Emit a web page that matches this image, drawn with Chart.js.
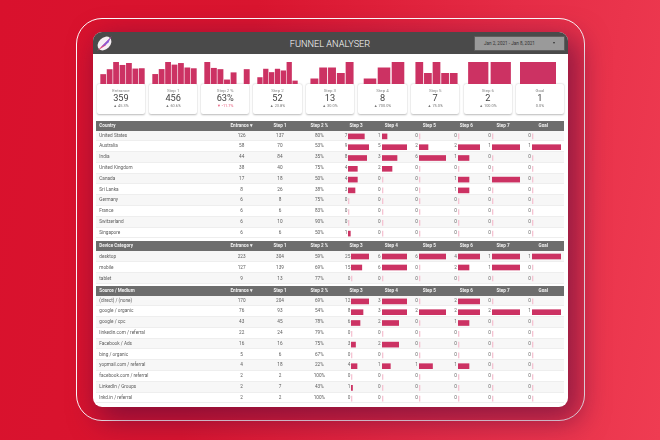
<!DOCTYPE html>
<html lang="en">
<head>
<meta charset="UTF-8">
<title>Funnel Analyser</title>
<script src="https://cdn.jsdelivr.net/npm/chart.js"></script>
<style>
    html, body { margin: 0; padding: 0; }
    html { background: linear-gradient(100deg, #d9112d 0%, #d9152f 35%, #e52c46 70%, #ef3c52 100%); height: 440px; }
    body {
        width: 660px; height: 440px; overflow: hidden; position: relative;
        font-family: Roboto, sans-serif;
        filter: blur(0.35px);
    }
    div, canvas, svg { position: absolute; box-sizing: border-box; }
    #frame { left: 76px; top: 18px; width: 509px; height: 403px; border: 1.5px solid #fff; border-radius: 26px; }
    #panel {
        left: 93px; top: 32px; width: 475px; height: 375px; background: #fff; border-radius: 9px;
        box-shadow: 8px 10px 28px 4px rgba(90, 10, 60, 0.6);
    }
    #topbar { left: 93px; top: 32px; width: 475px; height: 22px; background: #4a4a4a; border-radius: 9px 9px 0 0; }
    #title { left: 250px; top: 37px; width: 160px; text-align: center; color: #fff; font-size: 9.2px; font-weight: 300; line-height: 13px; }
    #datebox { left: 474px; top: 36px; width: 91px; height: 15px; background: #9a9a9a; border: 1px solid #5e5e5e; border-radius: 1px; color: #333; font-size: 4.6px; line-height: 13px; padding-left: 9px; }
    #caret { left: 553px; top: 41.5px; width: 0; height: 0; border-left: 1.5px solid transparent; border-right: 1.5px solid transparent; border-top: 2px solid #333; }
    .card { background: #fff; top: 84px; width: 48.4px; height: 30px; border-radius: 2px; box-shadow: 0 0.5px 2px rgba(0,0,0,0.28); text-align: center; }
    .card div { left: 0; width: 100%; }
    .clabel { top: 3.5px; font-size: 4.4px; line-height: 5px; color: #8a8a8a; }
    .cvalue { top: 7.5px; font-size: 9.2px; line-height: 11px; color: #444; }
    .cdelta { top: 19px; font-size: 3.9px; line-height: 5px; color: #777; }
    .cdelta.neg { color: #e8607f; }
    .thead { left: 96px; width: 468px; background: #6d6d6d; color: #f2f2f2; font-size: 4.6px; font-weight: 700; }
    .row { left: 96px; width: 468px; color: #5c5c5c; font-size: 4.7px; border-bottom: 0.5px solid #eee; }
    .row.odd { background: #f7f7f7; }
    .lab { left: 3.3px; white-space: nowrap; }
    .mid { width: 40px; text-align: center; white-space: nowrap; }
    .cnt { width: 14px; text-align: right; white-space: nowrap; color: #6a6a6a; }
</style>
</head>
<body>
<div id="frame"></div>
<div id="panel"></div>
<div id="topbar"></div>
<svg style="left:95px;top:34px" width="19" height="19" viewBox="0 0 19 19">
    <ellipse cx="9.5" cy="9.5" rx="7.8" ry="5.8" transform="rotate(-45 9.5 9.5)" fill="#f6f0f4"/>
    <path d="M2 17 L17 2 L10.5 11.5 Z" fill="#e0457a"/>
    <path d="M6 13 L16 3 L13.5 8.5 Q10 12 6 13 Z" fill="#8a5bd6"/>
</svg>
<div id="title">FUNNEL ANALYSER</div>
<div id="datebox">Jan 2, 2021 - Jan 8, 2021</div>
<div id="caret"></div>

<script>
// top scorecards, one bar per day in the date range
const cardLabels = ['Entrance', 'Step 1', 'Step 2 %', 'Step 2', 'Step 3', 'Step 4', 'Step 5', 'Step 6', 'Goal'];
const cardValues = ['359', '456', '63%', '52', '13', '8', '7', '2', '1'];
const cardDeltas = ['\u25B2 45.3%', '\u25B2 60.6%', '\u25BC -11.7%', '\u25B2 23.8%', '\u25B2 30.0%', '\u25B2 700.0%', '\u25B2 75.0%', '\u25B2 100.0%', '0.0%'];

const sparkEntrance = [30, 45, 67, 58, 64, 47, 48];
const sparkStep1 = [38, 57, 84, 74, 80, 63, 60];
const sparkStep2Pct = [89, 65, 60, 18, 47, 0, 60];
const sparkStep2 = [4, 9, 7, 9, 8, 13, 2];
const sparkStep3 = [1, 3, 3, 2, 4];
const sparkStep4 = [1, 3, 4];
const sparkStep5 = [2, 1, 2, 1, 1];
const sparkStep6 = [1, 1];
const sparkGoal = [1];
const sparks = [sparkEntrance, sparkStep1, sparkStep2Pct, sparkStep2, sparkStep3, sparkStep4, sparkStep5, sparkStep6, sparkGoal];

// table columns
const countryNames = ['United States', 'Australia', 'India', 'United Kingdom', 'Canada', 'Sri Lanka', 'Germany', 'France', 'Switzerland', 'Singapore'];
const countryEntrance = [126, 58, 44, 38, 17, 8, 6, 6, 6, 6];
const countryStep1 = [137, 70, 84, 40, 18, 26, 8, 6, 10, 6];
const countryPct = ['80%', '53%', '35%', '75%', '50%', '38%', '75%', '83%', '90%', '50%'];
const countryStep3 = [7, 9, 8, 4, 4, 3, 0, 0, 0, 1];
const countryStep4 = [1, 5, 3, 2, 0, 0, 0, 0, 0, 0];
const countryStep5 = [0, 2, 6, 0, 0, 0, 0, 0, 0, 0];
const countryStep6 = [0, 2, 1, 0, 1, 1, 0, 0, 0, 0];
const countryStep7 = [0, 1, 0, 0, 1, 0, 0, 0, 0, 0];
const countryGoal = [0, 1, 0, 0, 0, 0, 0, 0, 0, 0];

const deviceNames = ['desktop', 'mobile', 'tablet'];
const deviceEntrance = [223, 127, 9];
const deviceStep1 = [304, 139, 13];
const devicePct = ['59%', '69%', '77%'];
const deviceStep3 = [25, 15, 0];
const deviceStep4 = [6, 6, 0];
const deviceStep5 = [6, 0, 0];
const deviceStep6 = [4, 2, 0];
const deviceStep7 = [1, 1, 0];
const deviceGoal = [1, 0, 0];

const sourceNames = ['(direct) / (none)', 'google / organic', 'google / cpc', 'linkedin.com / referral', 'Facebook / Ads', 'bing / organic', 'yopmail.com / referral', 'facebook.com / referral', 'LinkedIn / Groups', 'lnkd.in / referral'];
const sourceEntrance = [170, 76, 43, 22, 16, 5, 4, 2, 2, 2];
const sourceStep1 = [204, 93, 45, 24, 16, 6, 18, 2, 7, 2];
const sourcePct = ['69%', '54%', '78%', '79%', '75%', '67%', '22%', '100%', '43%', '100%'];
const sourceStep3 = [12, 8, 6, 0, 3, 0, 4, 0, 1, 0];
const sourceStep4 = [3, 3, 2, 0, 2, 0, 1, 0, 0, 0];
const sourceStep5 = [0, 2, 0, 0, 0, 0, 1, 0, 0, 0];
const sourceStep6 = [2, 2, 1, 0, 0, 0, 1, 0, 0, 0];
const sourceStep7 = [0, 2, 0, 0, 0, 0, 0, 0, 0, 0];
const sourceGoal = [0, 1, 0, 0, 0, 0, 0, 0, 0, 0];

const stepHeaders = ['Step 3', 'Step 4', 'Step 5', 'Step 6', 'Step 7', 'Goal'];

const BAR = '#cc3263';
const BAR_ZERO = '#f6c4d3';
Chart.defaults.animation = false;
Chart.defaults.responsive = false;

function el(parent, cls, text, css) {
    const d = document.createElement('div');
    d.className = cls;
    if (text !== undefined) d.textContent = text;
    Object.assign(d.style, css || {});
    parent.appendChild(d);
    return d;
}

function canvasAt(left, top, w, h) {
    const c = document.createElement('canvas');
    c.width = w;
    c.height = h;
    c.style.left = left + 'px';
    c.style.top = top + 'px';
    document.body.appendChild(c);
    return c;
}

// scorecards + sparkbars
const cardLeft = [96.7, 149, 201, 253.3, 305.7, 358.3, 411, 463.7, 515.7];
const sparkBox = [[100, 45], [152, 45], [204, 46], [257, 41], [310, 44], [363, 42], [415, 43], [467, 45], [518, 40]];

cardLabels.forEach((label, i) => {
    const card = el(document.body, 'card', undefined, { left: cardLeft[i] + 'px' });
    el(card, 'clabel', label);
    el(card, 'cvalue', cardValues[i]);
    el(card, 'cdelta' + (cardDeltas[i].startsWith('\u25BC') ? ' neg' : ''), cardDeltas[i]);

    const data = sparks[i];
    new Chart(canvasAt(sparkBox[i][0], 62, sparkBox[i][1], 22), {
        type: 'bar',
        data: {
            labels: data.map((_, n) => n),
            datasets: [{ data: data, backgroundColor: BAR, categoryPercentage: 1, barPercentage: 0.9 }]
        },
        options: {
            layout: { padding: 0 },
            plugins: { legend: { display: false }, tooltip: { enabled: false } },
            scales: {
                x: { display: false },
                y: { display: false, beginAtZero: true, max: Math.max(...data) }
            }
        }
    });
});

// table layout
const midX = [241.7, 280, 319.3];
const stepCenter = [356, 391.3, 429.3, 466.3, 503, 543.3];
const barStart = [[348.3, 381.7, 419, 458, 492, 532], [351.3, 381.7, 419, 458, 492, 532], [351.3, 381.7, 419, 458, 492, 532]];
const barEnd = [369.7, 407, 446, 480, 520, 561];

function drawTable(idx, title, top, rowH, names, entrance, step1, pct, steps) {
    const head = el(document.body, 'thead', undefined, { top: top + 'px', height: '9.5px', lineHeight: '9.5px' });
    el(head, 'lab', title);
    el(head, 'mid', 'Entrance \u25BE', { left: (midX[0] - 96 - 20) + 'px' });
    el(head, 'mid', 'Step 1', { left: (midX[1] - 96 - 20) + 'px' });
    el(head, 'mid', 'Step 2 %', { left: (midX[2] - 96 - 20) + 'px' });
    stepHeaders.forEach((h, c) => el(head, 'mid', h, { left: (stepCenter[c] - 96 - 20) + 'px' }));

    const bodyTop = top + 9.5;
    names.forEach((name, r) => {
        const row = el(document.body, 'row' + (r % 2 === 0 ? ' odd' : ''), undefined, {
            top: (bodyTop + r * rowH) + 'px', height: rowH + 'px', lineHeight: rowH + 'px'
        });
        el(row, 'lab', name);
        el(row, 'mid', String(entrance[r]), { left: (midX[0] - 96 - 20) + 'px' });
        el(row, 'mid', String(step1[r]), { left: (midX[1] - 96 - 20) + 'px' });
        el(row, 'mid', pct[r], { left: (midX[2] - 96 - 20) + 'px' });
        steps.forEach((col, c) => {
            el(row, 'cnt', String(col[r]), { left: (barStart[idx][c] - 96 - 15) + 'px' });
        });
    });

    steps.forEach((col, c) => {
        const left = barStart[idx][c];
        new Chart(canvasAt(left, bodyTop, Math.round(barEnd[c] - left), Math.round(names.length * rowH)), {
            type: 'bar',
            data: {
                labels: names,
                datasets: [{
                    data: col,
                    backgroundColor: col.map(v => (v === 0 ? BAR_ZERO : BAR)),
                    barThickness: 5,
                    minBarLength: 1
                }]
            },
            options: {
                indexAxis: 'y',
                layout: { padding: 0 },
                plugins: { legend: { display: false }, tooltip: { enabled: false } },
                scales: {
                    x: { display: false, min: 0, max: Math.max(...col) },
                    y: { display: false }
                }
            }
        });
    });
}

drawTable(0, 'Country', 121, 10.8, countryNames, countryEntrance, countryStep1, countryPct,
    [countryStep3, countryStep4, countryStep5, countryStep6, countryStep7, countryGoal]);
drawTable(1, 'Device Category', 241, 11, deviceNames, deviceEntrance, deviceStep1, devicePct,
    [deviceStep3, deviceStep4, deviceStep5, deviceStep6, deviceStep7, deviceGoal]);
drawTable(2, 'Source / Medium', 286, 10.8, sourceNames, sourceEntrance, sourceStep1, sourcePct,
    [sourceStep3, sourceStep4, sourceStep5, sourceStep6, sourceStep7, sourceGoal]);
</script>
</body>
</html>
